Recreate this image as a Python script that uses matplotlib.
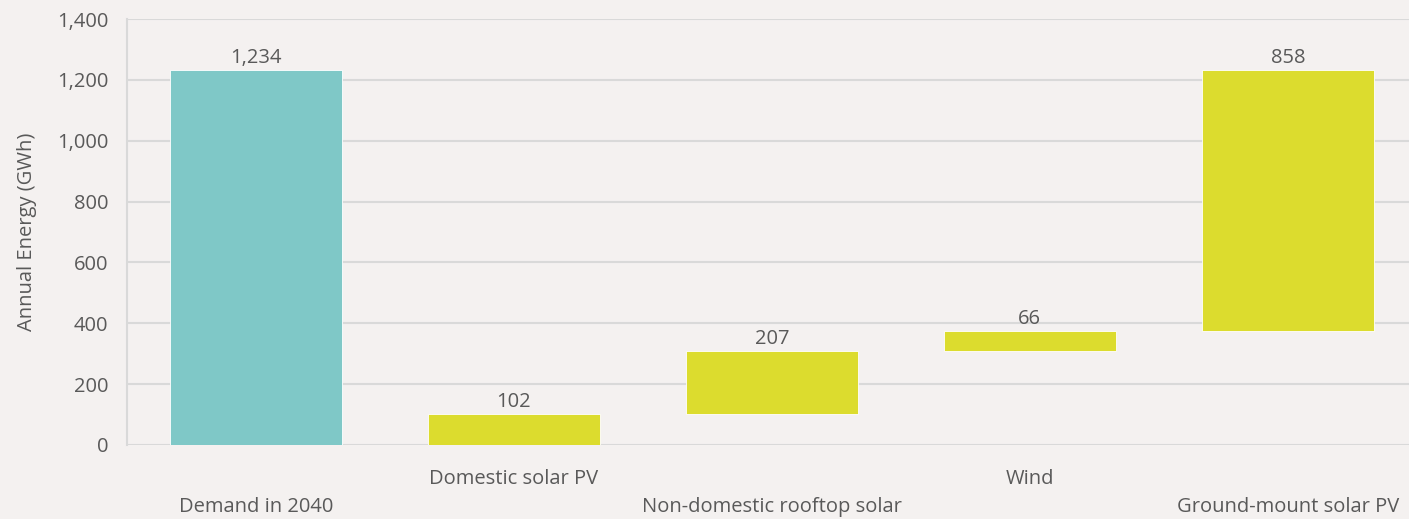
import matplotlib.pyplot as plt
import numpy as np

# Waterfall of annual energy: demand vs. generation sources
categories = ["Demand in 2040", "Domestic solar PV", "Non-domestic rooftop solar",
              "Wind", "Ground-mount solar PV"]
values = [1234, 102, 207, 66, 858]
is_total = [True, False, False, False, False]
y_ticks = [0, 200, 400, 600, 800, 1000, 1200, 1400]

BG = "#f4f1f0"
TEAL = "#7fc8c7"
YELLOW = "#dcdc2e"
TEXT = "#595959"
GRID = "#d9d9d9"
FS = 14.5

plt.rcParams["font.family"] = ["Open Sans", "DejaVu Sans"]

# running bottoms for the stacked increments
bottoms = []
running = 0
for v, tot in zip(values, is_total):
    if tot:
        bottoms.append(0)
    else:
        bottoms.append(running)
        running += v

fig = plt.figure(figsize=(14.09, 5.19), dpi=100, facecolor=BG)
ax = fig.add_axes([127 / 1409, 1 - 445 / 519, 1 - 127 / 1409, (445 - 19) / 519])
ax.set_facecolor(BG)

x = np.arange(len(categories))
colors = [TEAL if t else YELLOW for t in is_total]
bars = ax.bar(x, values, bottom=bottoms, width=0.665, color=colors,
              edgecolor="white", linewidth=0.6, zorder=3)

for b, v, bt in zip(bars, values, bottoms):
    ax.text(b.get_x() + b.get_width() / 2, bt + v + 6, f"{v:,}",
            ha="center", va="bottom", fontsize=FS, color=TEXT)

ax.set_ylim(0, 1400)
ax.set_xlim(-0.5, 4.47)
ax.set_yticks(y_ticks)
ax.set_yticklabels([f"{t:,}" for t in y_ticks])
ax.yaxis.grid(True, color=GRID, linewidth=1.5, zorder=0)
ax.tick_params(axis="y", length=0, pad=13.5, labelsize=FS, labelcolor=TEXT)

# staggered category labels (offsets in points below the zero line)
ax.set_xticks(x)
ax.set_xticklabels([])
ax.tick_params(axis="x", length=0)
for i, name in enumerate(categories):
    offset = -44.5 if i % 2 == 0 else -24.5
    ax.annotate(name, xy=(i, 0), xycoords="data", xytext=(0, offset),
                textcoords="offset points", ha="center", va="center",
                fontsize=FS, color=TEXT, annotation_clip=False)

for side in ["top", "right", "bottom"]:
    ax.spines[side].set_visible(False)
ax.spines["left"].set_color(GRID)
ax.spines["left"].set_linewidth(1.5)

ax.set_ylabel("Annual Energy (GWh)", fontsize=FS, color=TEXT, labelpad=14)

fig.savefig("out.png", dpi=100, facecolor=BG)
